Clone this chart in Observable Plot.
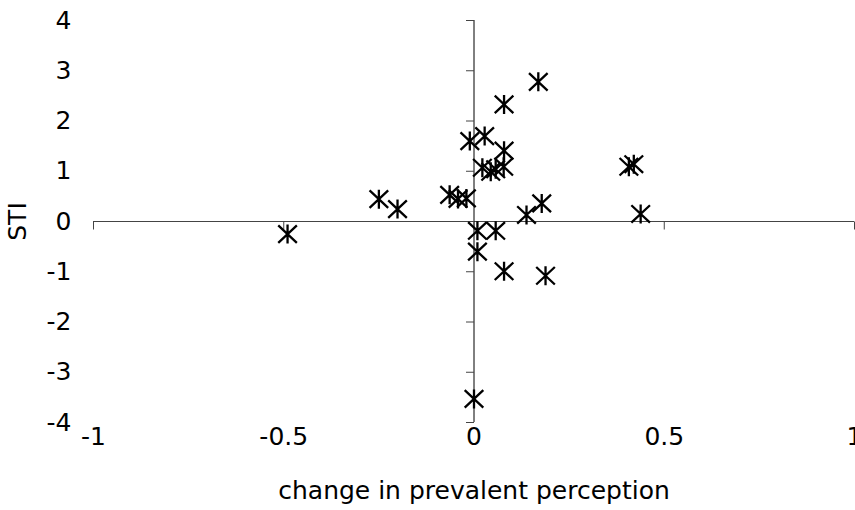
<!DOCTYPE html>
<html>
<head>
<meta charset="utf-8">
<script src="https://cdn.jsdelivr.net/npm/d3@7"></script>
<script src="https://cdn.jsdelivr.net/npm/@observablehq/plot@0.6"></script>
<style>
  html, body { margin: 0; padding: 0; background: #fff; }
  #chart svg { display: block; }
</style>
</head>
<body>
<div id="chart"></div>
<script>
// Data
const changeInPerception = [-0.490, -0.250, -0.201, -0.064, -0.042, -0.020, -0.011, 0.028, 0.079, 0.079, 0.169, 0.022, 0.044, 0.057, 0.078, 0.009, 0.057, 0.009, 0.079, 0.188, 0.138, 0.178, 0.407, 0.420, 0.438, 0.000];
const stiValues = [-0.25, 0.445, 0.247, 0.53, 0.45, 0.46, 1.60, 1.70, 1.41, 2.33, 2.78, 1.07, 0.99, 1.04, 1.09, -0.185, -0.185, -0.60, -0.99, -1.08, 0.13, 0.36, 1.09, 1.14, 0.15, -3.53];
const xTicks = [-1, -0.5, 0, 0.5, 1];
const yTicks = [-4, -3, -2, -1, 0, 1, 2, 3, 4];
const xLabel = "change in prevalent perception";
const yLabel = "STI";

const points = changeInPerception.map((x, i) => ({x, y: stiValues[i]}));

// Excel-style asterisk marker: vertical bar plus an X
const asterisk = {
  draw(context, size) {
    const r = Math.sqrt(size / Math.PI);
    context.moveTo(0, -r); context.lineTo(0, r);
    context.moveTo(-0.98 * r, -0.92 * r); context.lineTo(0.98 * r, 0.92 * r);
    context.moveTo(-0.98 * r, 0.92 * r); context.lineTo(0.98 * r, -0.92 * r);
  }
};
const tickLeft = { draw(context, size) { const r = Math.sqrt(size / Math.PI); context.moveTo(-r, 0); context.lineTo(0, 0); } };
const tickDown = { draw(context, size) { const r = Math.sqrt(size / Math.PI); context.moveTo(0, 0); context.lineTo(0, r); } };

const chart = Plot.plot({
  width: 855,
  height: 510,
  marginLeft: 93,
  marginRight: 1,
  marginTop: 20,
  marginBottom: 88,
  style: { fontFamily: "'DejaVu Sans', Verdana, sans-serif", fontSize: "25px", color: "#000", background: "#fff" },
  x: { domain: [-1, 1] },
  y: { domain: [-4, 4] },
  marks: [
    Plot.axisY({ ticks: yTicks, tickSize: 0, tickPadding: 22, tickFormat: d => String(d), label: yLabel, labelAnchor: "center", labelArrow: "none", labelOffset: 85, fontSize: 25 }),
    Plot.axisX({ ticks: xTicks, tickSize: 0, tickPadding: 5, tickFormat: d => String(d), label: xLabel, labelAnchor: "center", labelArrow: "none", labelOffset: 76, fontSize: 25 }),
    Plot.ruleY([0], { stroke: "#444", strokeWidth: 1 }),
    Plot.ruleX([0], { stroke: "#000", strokeWidth: 1 }),
    Plot.dot(yTicks, { x: 0, y: d => d, symbol: tickLeft, r: 8, fill: "none", stroke: "#444", strokeWidth: 1 }),
    Plot.dot(xTicks, { x: d => d, y: 0, symbol: tickDown, r: 8, fill: "none", stroke: "#444", strokeWidth: 1 }),
    Plot.dot(points, { x: "x", y: "y", symbol: asterisk, r: 9.5, fill: "none", stroke: "#000", strokeWidth: 2.3 })
  ]
});
document.getElementById("chart").appendChild(chart);
</script>
</body>
</html>
